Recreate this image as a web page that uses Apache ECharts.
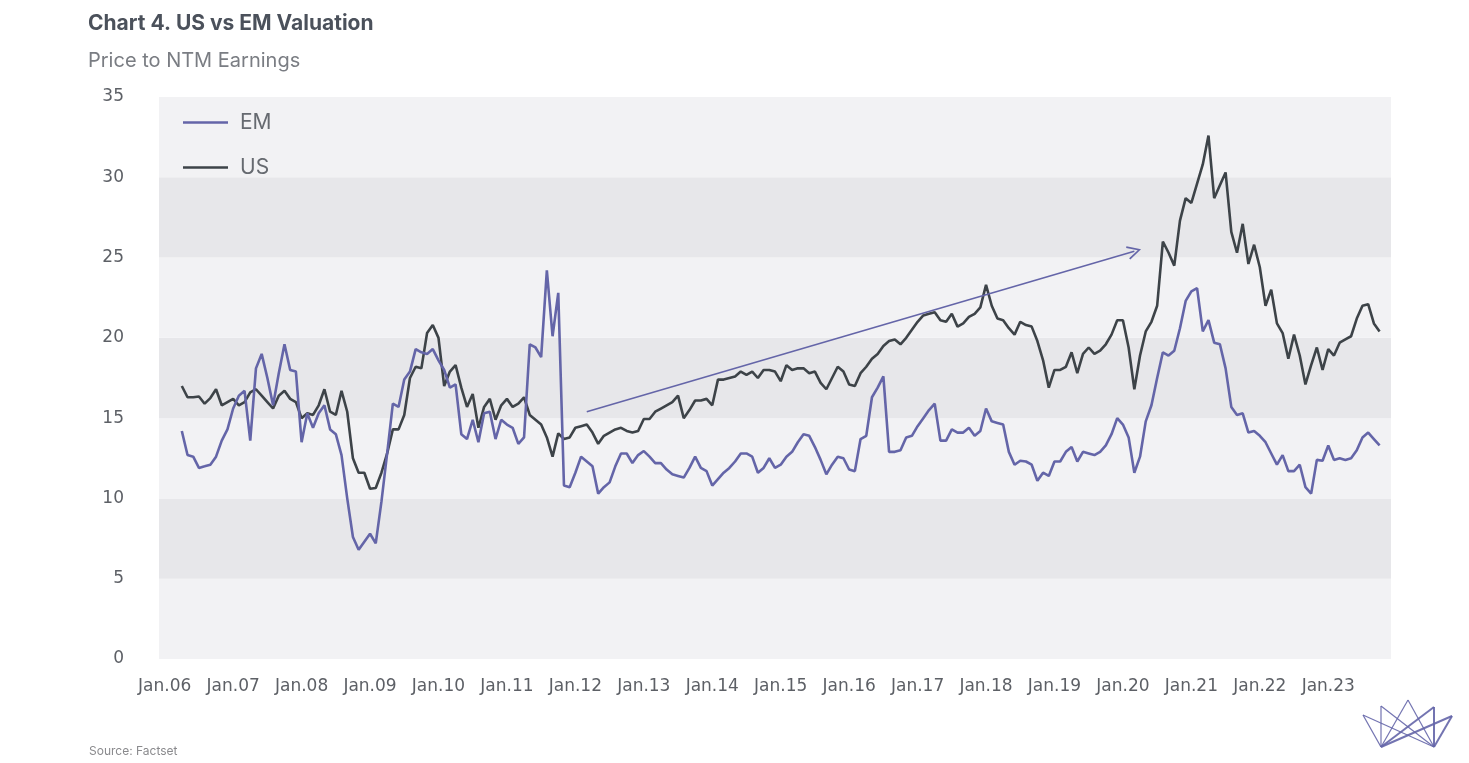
<!DOCTYPE html>
<html>
<head>
<meta charset="utf-8">
<title>US vs EM Valuation</title>
<script src="https://cdn.jsdelivr.net/npm/echarts@6/dist/echarts.min.js"></script>
<style>
  html, body { margin: 0; padding: 0; background: #fff; }
  #chart { width: 1469px; height: 763px; }
</style>
</head>
<body>
<div id="chart"></div>
<script>
// Price to NTM earnings, monthly, Apr 2006 .. Oct 2023
const firstMonth = [2006, 4];

const emPE = [
  14.2, 12.7, 12.6, 11.9, 12.0, 12.1, 12.6, 13.6, 14.3,                 // 2006 Apr-Dec
  15.6, 16.4, 16.7, 13.6, 18.1, 19.0, 17.5, 15.8, 17.8, 19.6, 18.0, 17.9, // 2007
  13.5, 15.3, 14.4, 15.3, 15.8, 14.3, 14.0, 12.7, 10.0, 7.6, 6.8, 7.3,    // 2008
  7.8, 7.2, 9.8, 12.8, 15.9, 15.7, 17.4, 17.9, 19.3, 19.1, 19.0, 19.3,    // 2009
  18.6, 18.0, 16.9, 17.1, 14.0, 13.7, 14.9, 13.5, 15.3, 15.4, 13.7, 14.9, // 2010
  14.6, 14.4, 13.4, 13.8, 19.6, 19.4, 18.8, 24.2, 20.1, 22.8, 10.8, 10.7, // 2011
  11.6, 12.6, 12.3, 12.0, 10.3, 10.7, 11.0, 12.0, 12.8, 12.8, 12.2, 12.7, // 2012
  12.95, 12.6, 12.2, 12.2, 11.8, 11.5, 11.4, 11.3, 11.9, 12.6, 11.9, 11.7, // 2013
  10.8, 11.2, 11.6, 11.9, 12.3, 12.8, 12.8, 12.6, 11.6, 11.9, 12.5, 11.9, // 2014
  12.1, 12.6, 12.9, 13.5, 14.0, 13.9, 13.2, 12.4, 11.5, 12.1, 12.6, 12.5, // 2015
  11.8, 11.7, 13.7, 13.9, 16.3, 16.9, 17.6, 12.9, 12.9, 13.0, 13.8, 13.9, // 2016
  14.5, 15.0, 15.5, 15.9, 13.6, 13.6, 14.3, 14.1, 14.1, 14.4, 13.9, 14.2, // 2017
  15.6, 14.8, 14.7, 14.6, 12.9, 12.1, 12.35, 12.3, 12.1, 11.1, 11.6, 11.4, // 2018
  12.3, 12.3, 12.9, 13.2, 12.3, 12.9, 12.8, 12.7, 12.9, 13.3, 14.0, 15.0, // 2019
  14.6, 13.8, 11.6, 12.6, 14.8, 15.8, 17.5, 19.1, 18.9, 19.2, 20.6, 22.3, // 2020
  22.9, 23.1, 20.4, 21.1, 19.7, 19.6, 18.1, 15.7, 15.2, 15.3, 14.1, 14.2, // 2021
  13.9, 13.5, 12.8, 12.1, 12.7, 11.7, 11.7, 12.1, 10.7, 10.3, 12.4, 12.35, // 2022
  13.3, 12.4, 12.5, 12.4, 12.5, 13.0, 13.8, 14.1, 13.7, 13.3              // 2023 Jan-Oct
];

const usPE = [
  17.0, 16.3, 16.3, 16.35, 15.9, 16.25, 16.8, 15.8, 16.0,               // 2006 Apr-Dec
  16.2, 15.8, 16.0, 16.6, 16.8, 16.4, 16.0, 15.6, 16.4, 16.7, 16.2, 16.0, // 2007
  15.0, 15.3, 15.2, 15.8, 16.8, 15.4, 15.2, 16.7, 15.4, 12.5, 11.6, 11.6, // 2008
  10.6, 10.65, 11.6, 12.8, 14.3, 14.3, 15.2, 17.5, 18.2, 18.1, 20.3, 20.8, // 2009
  20.0, 17.0, 17.9, 18.3, 16.9, 15.7, 16.5, 14.4, 15.7, 16.2, 14.9, 15.8, // 2010
  16.2, 15.7, 15.9, 16.3, 15.2, 14.9, 14.6, 13.8, 12.6, 14.05, 13.7, 13.8, // 2011
  14.4, 14.5, 14.6, 14.1, 13.4, 13.9, 14.1, 14.3, 14.4, 14.2, 14.1, 14.2, // 2012
  14.95, 14.95, 15.4, 15.6, 15.8, 16.0, 16.4, 15.0, 15.5, 16.1, 16.1, 16.2, // 2013
  15.8, 17.4, 17.4, 17.5, 17.6, 17.9, 17.7, 17.9, 17.5, 18.0, 18.0, 17.9, // 2014
  17.3, 18.3, 18.0, 18.1, 18.1, 17.8, 17.9, 17.2, 16.8, 17.5, 18.2, 17.9, // 2015
  17.1, 17.0, 17.8, 18.2, 18.7, 19.0, 19.5, 19.8, 19.9, 19.6, 20.0, 20.5, // 2016
  21.0, 21.4, 21.5, 21.6, 21.1, 21.0, 21.5, 20.7, 20.9, 21.3, 21.5, 21.9, // 2017
  23.3, 22.0, 21.2, 21.1, 20.6, 20.2, 21.0, 20.8, 20.7, 19.8, 18.6, 16.9, // 2018
  18.0, 18.0, 18.2, 19.1, 17.8, 19.0, 19.4, 19.0, 19.2, 19.6, 20.2, 21.1, // 2019
  21.1, 19.4, 16.8, 18.9, 20.4, 21.0, 22.0, 26.0, 25.3, 24.5, 27.3, 28.7, // 2020
  28.4, 29.6, 30.8, 32.6, 28.7, 29.5, 30.3, 26.6, 25.3, 27.1, 24.6, 25.8, // 2021
  24.4, 22.0, 23.0, 20.9, 20.3, 18.7, 20.2, 18.9, 17.1, 18.3, 19.4, 18.0, // 2022
  19.3, 18.9, 19.7, 19.9, 20.1, 21.2, 22.0, 22.1, 20.9, 20.4              // 2023 Jan-Oct
];

// axis runs Dec 2005 .. Dec 2023, one category per month
const axisStart = [2005, 12];
const axisEnd = [2023, 12];
const yTicks = [0, 5, 10, 15, 20, 25, 30, 35];

// trend arrow drawn on the chart
const arrowFrom = ['2012-03', 15.4];
const arrowTo = ['2020-03', 25.4];

const EM_COLOR = '#6465a8';
const US_COLOR = '#3d4348';

function monthKey(y, m) {
  return y + '-' + (m < 10 ? '0' + m : m);
}

function monthRange(from, to) {
  const out = [];
  let y = from[0], m = from[1];
  while (y < to[0] || (y === to[0] && m <= to[1])) {
    out.push(monthKey(y, m));
    m++;
    if (m > 12) { m = 1; y++; }
  }
  return out;
}

const months = monthRange(axisStart, axisEnd);

function toPairs(values) {
  const start = months.indexOf(monthKey(firstMonth[0], firstMonth[1]));
  return values.map((v, k) => [months[start + k], v]);
}

// small crown logo, bottom right
const logoBase = [[1381, 747], [1434, 747]];
const logoPeaks = [[1363, 715], [1381, 706], [1408, 700], [1434, 707], [1452, 716]];
const logoLines = [];
logoBase.forEach(b => {
  logoPeaks.forEach((p, k) => {
    logoLines.push({
      type: 'line',
      shape: { x1: b[0], y1: b[1], x2: p[0], y2: p[1] },
      style: { stroke: EM_COLOR, lineWidth: k >= 3 ? 2 : 1.2, opacity: 0.9 },
      silent: true
    });
  });
});

const chart = echarts.init(document.getElementById('chart'));

chart.setOption({
  animation: false,
  backgroundColor: '#fff',
  title: [{
    text: 'Chart 4. US vs EM Valuation',
    left: 88,
    top: 13,
    padding: 0,
    textStyle: { fontFamily: 'Inter', fontSize: 21, fontWeight: 'bold', color: '#4b515b' }
  }, {
    text: 'Price to NTM Earnings',
    left: 88,
    top: 51,
    padding: 0,
    textStyle: { fontFamily: 'Inter', fontSize: 20, fontWeight: 'normal', color: '#7a7d83' }
  }],
  legend: {
    data: ['EM', 'US'],
    orient: 'vertical',
    left: 183,
    top: 112,
    padding: 0,
    icon: 'rect',
    itemWidth: 45,
    itemHeight: 2.5,
    itemGap: 24,
    textStyle: { fontFamily: 'Inter', fontSize: 21, color: '#666a70', padding: [0, 0, 0, 7] }
  },
  grid: {
    left: 159,
    top: 97,
    width: 1232,
    height: 562,
    containLabel: false
  },
  xAxis: {
    type: 'category',
    data: months,
    boundaryGap: false,
    axisLine: { show: false },
    axisTick: { show: false },
    splitLine: { show: false },
    axisLabel: {
      interval: (idx, val) => val.slice(5) === '01',
      formatter: val => val.slice(5) === '01' ? 'Jan.' + val.slice(2, 4) : '',
      margin: 19,
      fontFamily: 'DejaVu Sans',
      fontSize: 17,
      color: '#5d6066'
    }
  },
  yAxis: {
    type: 'value',
    min: yTicks[0],
    max: yTicks[yTicks.length - 1],
    interval: yTicks[1] - yTicks[0],
    axisLine: { show: false },
    axisTick: { show: false },
    splitLine: { show: false },
    splitArea: {
      show: true,
      areaStyle: { color: ['#f2f2f4', '#e7e7ea'] }
    },
    axisLabel: {
      margin: 35,
      fontFamily: 'DejaVu Sans',
      fontSize: 17,
      color: '#5d6066'
    }
  },
  series: [{
    name: 'US',
    type: 'line',
    data: toPairs(usPE),
    symbol: 'none',
    color: US_COLOR,
    lineStyle: { width: 2.6, color: US_COLOR },
    z: 2
  }, {
    name: 'EM',
    type: 'line',
    data: toPairs(emPE),
    symbol: 'none',
    color: EM_COLOR,
    lineStyle: { width: 2.6, color: EM_COLOR },
    z: 3,
    markLine: {
      silent: true,
      animation: false,
      symbol: ['none', 'path://M0,10 L5,0 L10,10 L8.8,10.6 L5,2.6 L1.2,10.6 Z'],
      symbolSize: [14, 14],
      label: { show: false },
      lineStyle: { color: EM_COLOR, width: 1.6, type: 'solid' },
      data: [[{ coord: arrowFrom }, { coord: arrowTo }]]
    }
  }],
  graphic: [{
    type: 'text',
    left: 89,
    top: 745,
    style: { text: 'Source: Factset', fontFamily: 'Inter', fontSize: 12, fill: '#8a8a8d' }
  }].concat(logoLines)
});
</script>
</body>
</html>
